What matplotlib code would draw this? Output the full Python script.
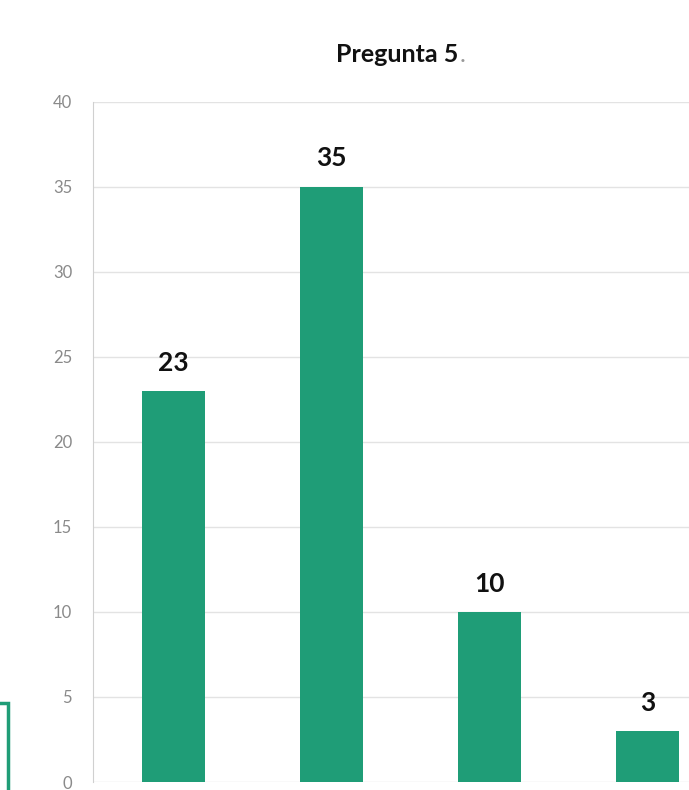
import matplotlib.pyplot as plt
from matplotlib.patches import Rectangle

categorias = ["A", "B", "C", "D"]
valores = [23, 35, 10, 3]
yticks = [0, 5, 10, 15, 20, 25, 30, 35, 40]

verde = "#1f9d77"
fuente = "Lato"

fig = plt.figure(figsize=(6.89, 7.9), dpi=100)
ax = fig.add_axes([0.135, 0.0101, 0.92, 0.861])

x = range(len(categorias))
ax.bar(x, valores, width=0.4, color=verde, zorder=3)
ax.set_xlim(-0.51, 3.5)
ax.set_ylim(0, 40)
ax.set_yticks(yticks)
ax.set_xticks([])
ax.grid(axis="y", color="#e3e3e3", linewidth=1, zorder=0)
for s in ["top", "right", "bottom"]:
    ax.spines[s].set_visible(False)
ax.spines["left"].set_color("#d0d0d0")
ax.tick_params(axis="y", length=0, pad=15, labelsize=12, labelcolor="#8a8a8a")
for lbl in ax.get_yticklabels():
    lbl.set_family(fuente)

# etiquetas de valor
for i, v in enumerate(valores):
    ax.text(i, v + 1.2, str(v), ha="center", va="baseline", fontsize=19,
            fontweight="bold", family=fuente, color="#111111")

fig.text(0.666, 0.921, "Pregunta 5", ha="right", va="baseline", fontsize=18,
         fontweight="bold", family=fuente, color="#111111")
fig.text(0.667, 0.921, ".", ha="left", va="baseline", fontsize=18,
         family=fuente, color="#999999")

# recuadro verde a la izquierda
fig.patches.append(Rectangle((-0.02, -0.02), 0.031, 0.13, transform=fig.transFigure,
                             fill=False, edgecolor=verde, linewidth=2.5))

fig.savefig("out.png", dpi=100)
